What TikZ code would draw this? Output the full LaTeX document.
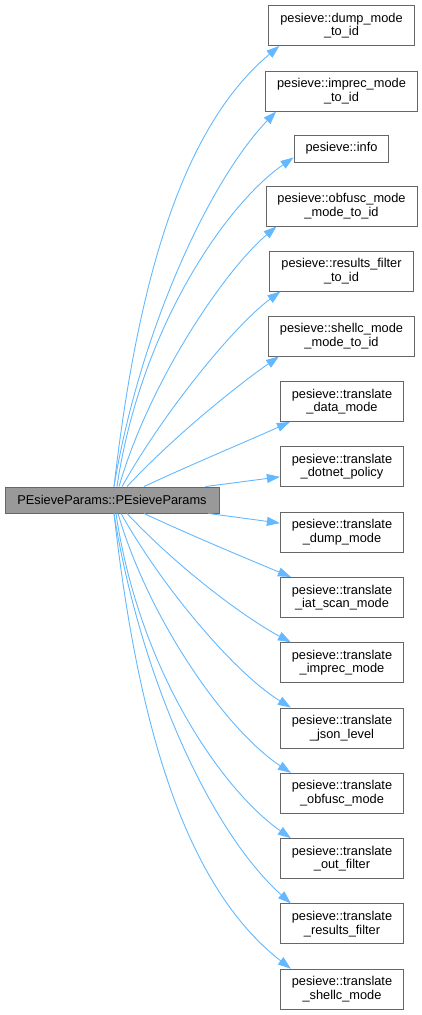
\documentclass[tikz,border=0pt]{standalone}
\usepackage{fontspec}
\setmainfont{Liberation Sans}
\usetikzlibrary{arrows.meta}
\definecolor{edgeblue}{HTML}{63B8FF}
\definecolor{boxline}{HTML}{666666}
\definecolor{rootfill}{HTML}{999999}
\begin{document}
\begin{tikzpicture}[x=1pt,y=-1pt,
  every node/.style={draw=boxline,fill=white,align=center,line width=0.9pt,
    inner xsep=11.5pt,inner ysep=3pt,minimum height=40pt,
    font=\fontsize{12.8}{13.5}\selectfont},
  call/.style={draw=edgeblue,line width=0.9pt,-{Triangle[length=13pt,width=9pt]}}]
\useasboundingbox (0,0) rectangle (422,1015);
\node[fill=rootfill,minimum height=26pt,minimum width=214pt] (root) at (112,500)
  {PEsieveParams::PEsieveParams};
% called functions, top to bottom
\node (dumpid) at (341.5,25.5) {pesieve::dump\_mode\\\_to\_id};
\node (imprecid) at (341.5,91) {pesieve::imprec\_mode\\\_to\_id};
\node[minimum height=27pt] (info) at (341.5,148.5) {pesieve::info};
\node (obfuscid) at (341.5,206) {pesieve::obfusc\_mode\\\_mode\_to\_id};
\node (resultsid) at (341.5,271) {pesieve::results\_filter\\\_to\_id};
\node (shellcid) at (341.5,336) {pesieve::shellc\_mode\\\_mode\_to\_id};
\node (tdata) at (342,401.5) {pesieve::translate\\\_data\_mode};
\node (tdotnet) at (342,466.8) {pesieve::translate\\\_dotnet\_policy};
\node (tdump) at (342,532.1) {pesieve::translate\\\_dump\_mode};
\node (tiat) at (342,597.4) {pesieve::translate\\\_iat\_scan\_mode};
\node (timprec) at (342,662.7) {pesieve::translate\\\_imprec\_mode};
\node (tjson) at (342,728) {pesieve::translate\\\_json\_level};
\node (tobfusc) at (342,793.3) {pesieve::translate\\\_obfusc\_mode};
\node (tout) at (342,858.6) {pesieve::translate\\\_out\_filter};
\node (tresults) at (342,923.9) {pesieve::translate\\\_results\_filter};
\node (tshellc) at (342,989.2) {pesieve::translate\\\_shellc\_mode};
% calls
\draw[call] ([xshift=2pt]root.north) .. controls (137,287) and (180,129) .. ([xshift=11pt]dumpid.south west);
\draw[call] ([xshift=2pt]root.north) .. controls (140,330) and (210,180) .. ([xshift=11pt]imprecid.south west);
\draw[call] ([xshift=5pt]root.north) .. controls (140,330) and (225,205) .. ([yshift=5pt]info.south west);
\draw[call] ([xshift=7pt]root.north) .. controls (150,380) and (225,270) .. ([xshift=11pt]obfuscid.south west);
\draw[call] ([xshift=10pt]root.north) .. controls (165,410) and (235,325) .. ([xshift=11pt]resultsid.south west);
\draw[call] ([xshift=15pt]root.north) .. controls (180,430) and (245,380) .. ([xshift=11pt]shellcid.south west);
\draw[call] ([xshift=32pt]root.north) .. controls (190,465) and (250,440) .. ([xshift=10pt]tdata.south west);
\draw[call] ([xshift=-14pt]root.north east) -- ([yshift=-10pt]tdotnet.west);
\draw[call] ([xshift=-11pt]root.south east) -- ([yshift=9pt]tdump.west);
\draw[call] ([xshift=32pt]root.south) .. controls (190,535) and (250,560) .. ([xshift=11pt]tiat.north west);
\draw[call] ([xshift=15pt]root.south) .. controls (180,570) and (247,619) .. ([xshift=11pt]timprec.north west);
\draw[call] ([xshift=9pt]root.south) .. controls (164,590) and (236,674) .. ([xshift=11pt]tjson.north west);
\draw[call] ([xshift=6pt]root.south) .. controls (149,620) and (226,730) .. ([xshift=11pt]tobfusc.north west);
\draw[call] ([xshift=4pt]root.south) .. controls (139,670) and (222,790) .. ([xshift=11pt]tout.north west);
\draw[call] ([xshift=2pt]root.south) .. controls (140,676) and (210,831) .. ([xshift=11pt]tresults.north west);
\draw[call] ([xshift=2pt]root.south) .. controls (137,719) and (183,885) .. ([xshift=11pt]tshellc.north west);
\end{tikzpicture}
\end{document}
